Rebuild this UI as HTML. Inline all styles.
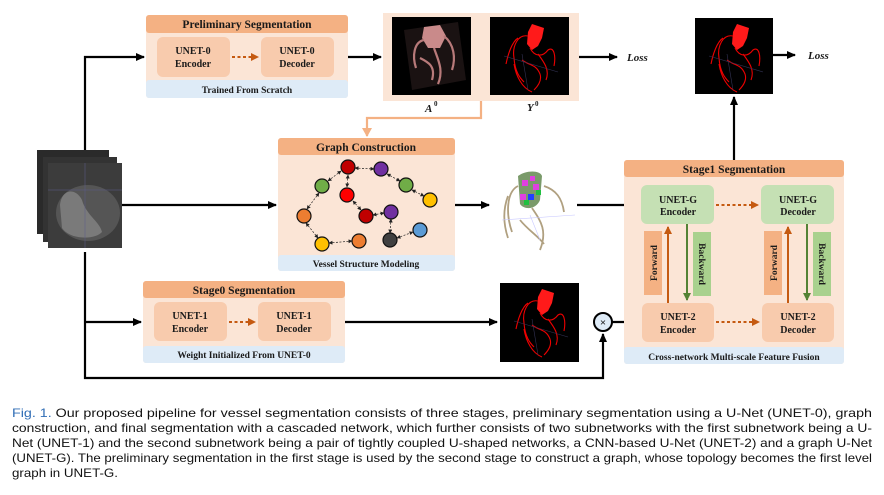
<!DOCTYPE html>
<html><head><meta charset="utf-8"><style>
html,body{margin:0;padding:0;background:#fff;}
svg{display:block;}
text{font-family:"Liberation Serif",serif;font-weight:bold;fill:#1a1a1a;}
.c{font-family:"Liberation Sans",sans-serif;font-weight:normal;fill:#111;font-size:11.6px;}
</style></head><body>
<svg width="884" height="495" viewBox="0 0 884 495" xmlns="http://www.w3.org/2000/svg">
<defs>
<marker id="ab" markerWidth="9" markerHeight="8" refX="8" refY="4" orient="auto" markerUnits="userSpaceOnUse"><path d="M0,0 L9,4 L0,8 z" fill="#000"/></marker>
<marker id="ao" markerWidth="8" markerHeight="8" refX="7" refY="4" orient="auto" markerUnits="userSpaceOnUse"><path d="M0,0 L8,4 L0,8 z" fill="#c55a11"/></marker>
<marker id="ag" markerWidth="8" markerHeight="8" refX="7" refY="4" orient="auto" markerUnits="userSpaceOnUse"><path d="M0,0 L8,4 L0,8 z" fill="#548235"/></marker>
<marker id="ap" markerWidth="10" markerHeight="10" refX="8" refY="5" orient="auto" markerUnits="userSpaceOnUse"><path d="M0,0 L9,5 L0,10 z" fill="#f4b183"/></marker>
<marker id="sm" markerWidth="4" markerHeight="4" refX="3.5" refY="2" orient="auto-start-reverse" markerUnits="userSpaceOnUse"><path d="M0,0 L4,2 L0,4 z" fill="#222"/></marker>
<g id="heart">
<path d="M32,4 L44,8 L42,18 L38,26 L32,30 L27,24 L28,12 Z" fill="#ff1a1a"/>
<path d="M28,16 C18,14 12,26 14,38 C15,52 20,58 24,62 M30,28 C34,36 42,38 48,30 C54,26 56,36 54,46 M22,40 C30,46 36,44 40,54 C42,60 38,66 34,70 M14,44 C16,56 22,68 32,72 M38,34 C44,42 50,50 46,60 M18,18 C12,22 8,34 6,44" stroke="#e00" stroke-width="1.1" fill="none"/>
<path d="M4,36 L58,52 M22,34 L28,70" stroke="#335" stroke-width="0.6"/>
</g>
</defs>

<g stroke="#000" stroke-width="2.2" fill="none">
<path d="M85,150 L85,57 L144,57" marker-end="url(#ab)"/>
<path d="M85,252 L85,378 L603,378 L603,334" marker-end="url(#ab)"/>
<path d="M85,322 L141,322" marker-end="url(#ab)"/>
<path d="M122,205 L276,205" marker-end="url(#ab)"/>
<path d="M348,57 L381,57" marker-end="url(#ab)"/>
<path d="M579,57 L617,57" marker-end="url(#ab)"/>
<path d="M455,205 L489,205" marker-end="url(#ab)"/>
<path d="M577,205 L638,205" marker-end="url(#ab)"/>
<path d="M345,322 L497,322" marker-end="url(#ab)"/>
<path d="M612,322 L638,322" marker-end="url(#ab)"/>
<path d="M734,160 L734,97" marker-end="url(#ab)"/>
<path d="M773,55 L795,55" marker-end="url(#ab)"/>
</g>
<text x="627" y="61" font-size="11" font-style="italic">Loss</text>
<text x="808" y="59" font-size="11" font-style="italic">Loss</text>

<rect x="37" y="150" width="72" height="84" fill="#2a2a2a"/>
<rect x="43" y="157" width="74" height="85" fill="#333"/>
<rect x="48" y="163" width="74" height="85" fill="#3c3c3c"/>
<ellipse cx="88" cy="213" rx="32" ry="28" fill="#555"/>
<path d="M60,205 C62,188 76,188 82,200 C86,215 100,222 102,232 C95,240 70,240 62,228 Z" fill="#7a7a7a"/>
<path d="M48,190 L122,190 M85,163 L85,248" stroke="#5b5b8a" stroke-width="0.5"/>

<rect x="146" y="15" width="202" height="83" rx="3" fill="#fbe5d6"/>
<rect x="146" y="15" width="202" height="18" rx="3" fill="#f4b183"/>
<rect x="146" y="80" width="202" height="18" rx="3" fill="#deebf7"/>
<text x="247" y="28" font-size="11.5" text-anchor="middle">Preliminary Segmentation</text>
<rect x="157" y="37" width="73" height="40" rx="6" fill="#f8cbad"/>
<rect x="261" y="37" width="73" height="40" rx="6" fill="#f8cbad"/>
<text x="193" y="54" font-size="10" text-anchor="middle">UNET-0</text>
<text x="193" y="67" font-size="10" text-anchor="middle">Encoder</text>
<text x="297" y="54" font-size="10" text-anchor="middle">UNET-0</text>
<text x="297" y="67" font-size="10" text-anchor="middle">Decoder</text>
<path d="M232,57 L258,57" stroke="#c55a11" stroke-width="2" stroke-dasharray="3,2.5" marker-end="url(#ao)"/>
<text x="247" y="93" font-size="9.5" text-anchor="middle">Trained From Scratch</text>

<rect x="383" y="13" width="196" height="88" fill="#fbe5d6"/>
<rect x="392" y="17" width="79" height="78" fill="#000"/>
<rect x="490" y="17" width="79" height="78" fill="#000"/>
<path d="M404,30 L458,22 L466,80 L412,90 Z" fill="#1a1212"/>
<path d="M424,27 L440,25 L446,36 L440,48 L428,48 L422,38 Z" fill="#c98a8a"/>
<path d="M424,40 C414,42 412,56 416,68 M434,48 C438,60 444,70 438,84 M420,58 C428,62 436,66 432,80 M444,36 C454,44 456,58 452,70" stroke="#b87a7a" stroke-width="2.2" fill="none"/>
<g transform="translate(500,20)"><use href="#heart"/></g>
<g transform="translate(705,20)"><rect x="-10" y="-2" width="78" height="76" fill="#000"/><use href="#heart"/></g>
<g transform="translate(510,285)"><rect x="-10" y="-2" width="79" height="79" fill="#000"/><use href="#heart"/></g>
<text x="425" y="112" font-size="11" font-style="italic">A</text><text x="434" y="106" font-size="7">0</text>
<text x="527" y="111" font-size="11" font-style="italic">Y</text><text x="535" y="106" font-size="7">0</text>
<path d="M481,101 L481,118 L367,118 L367,136" stroke="#f4b183" stroke-width="2.2" fill="none" marker-end="url(#ap)"/>

<rect x="278" y="138" width="177" height="133" rx="3" fill="#fbe5d6"/>
<rect x="278" y="138" width="177" height="17" rx="3" fill="#f4b183"/>
<rect x="278" y="255" width="177" height="16" rx="3" fill="#deebf7"/>
<text x="366" y="151" font-size="11.5" text-anchor="middle">Graph Construction</text>
<text x="366" y="267" font-size="9.5" text-anchor="middle">Vessel Structure Modeling</text>
<g stroke="#222" stroke-width="0.7" stroke-dasharray="2,1.5" marker-start="url(#sm)" marker-end="url(#sm)">
<path d="M355,168 L374,169"/><path d="M341,171 L328,181"/><path d="M348,175 L347,187"/><path d="M387,174 L400,181"/>
<path d="M412,190 L424,196"/><path d="M319,193 L307,209"/><path d="M353,201 L361,210"/><path d="M373,215 L384,213"/>
<path d="M306,223 L318,238"/><path d="M329,243 L352,241"/><path d="M391,219 L390,233"/><path d="M397,238 L413,232"/>
</g>
<g stroke="#111" stroke-width="1.2">
<circle cx="348" cy="167" r="7" fill="#c00000"/>
<circle cx="381" cy="169" r="7" fill="#7030a0"/>
<circle cx="322" cy="186" r="7" fill="#70ad47"/>
<circle cx="406" cy="185" r="7" fill="#70ad47"/>
<circle cx="347" cy="195" r="7" fill="#ff0000"/>
<circle cx="430" cy="200" r="7" fill="#ffc000"/>
<circle cx="304" cy="216" r="7" fill="#ed7d31"/>
<circle cx="366" cy="216" r="7" fill="#c00000"/>
<circle cx="391" cy="212" r="7" fill="#7030a0"/>
<circle cx="420" cy="230" r="7" fill="#5b9bd5"/>
<circle cx="322" cy="244" r="7" fill="#ffc000"/>
<circle cx="359" cy="241" r="7" fill="#ed7d31"/>
<circle cx="390" cy="240" r="7" fill="#404040"/>
</g>

<path d="M518,176 C526,170 540,170 542,176 L540,200 C536,210 524,210 520,204 Z" fill="#7a9a6a"/>
<path d="M522,180 h6v6h-6z M533,184h6v6h-6z M520,194h6v6h-6z M530,176h5v5h-5z" fill="#e040e0"/>
<path d="M528,194 h6v6h-6z" fill="#2040ff"/>
<path d="M536,190h5v5h-5z M524,200h5v5h-5z" fill="#20c040"/>
<path d="M518,186 C506,192 506,215 512,232 M532,208 C540,220 548,230 540,250 M544,186 C556,190 562,198 564,212 M520,220 C528,230 538,236 544,244 M508,196 C502,212 504,226 508,238" stroke="#b0a080" stroke-width="1.8" fill="none"/>
<path d="M502,220 L575,215 M530,215 L540,240" stroke="#c8c8ff" stroke-width="0.6"/>

<rect x="143" y="281" width="202" height="82" rx="3" fill="#fbe5d6"/>
<rect x="143" y="281" width="202" height="17" rx="3" fill="#f4b183"/>
<rect x="143" y="346" width="202" height="17" rx="3" fill="#deebf7"/>
<text x="244" y="294" font-size="11.5" text-anchor="middle">Stage0 Segmentation</text>
<rect x="154" y="302" width="73" height="39" rx="6" fill="#f8cbad"/>
<rect x="258" y="302" width="73" height="39" rx="6" fill="#f8cbad"/>
<text x="190" y="319" font-size="10" text-anchor="middle">UNET-1</text>
<text x="190" y="332" font-size="10" text-anchor="middle">Encoder</text>
<text x="294" y="319" font-size="10" text-anchor="middle">UNET-1</text>
<text x="294" y="332" font-size="10" text-anchor="middle">Decoder</text>
<path d="M229,322 L255,322" stroke="#c55a11" stroke-width="2" stroke-dasharray="3,2.5" marker-end="url(#ao)"/>
<text x="244" y="358" font-size="9.5" text-anchor="middle">Weight Initialized From UNET-0</text>

<circle cx="603" cy="322" r="9" fill="#deebf7" stroke="#000" stroke-width="2"/>
<text x="603" y="326" font-size="11" text-anchor="middle" font-family="Liberation Sans" font-weight="normal">×</text>

<rect x="624" y="160" width="220" height="204" rx="3" fill="#fbe5d6"/>
<rect x="624" y="160" width="220" height="17" rx="3" fill="#f4b183"/>
<rect x="624" y="347" width="220" height="17" rx="3" fill="#deebf7"/>
<text x="734" y="173" font-size="11.5" text-anchor="middle">Stage1 Segmentation</text>
<text x="734" y="360" font-size="9.5" text-anchor="middle">Cross-network Multi-scale Feature Fusion</text>
<rect x="641" y="185" width="73" height="39" rx="6" fill="#c5e0b4"/>
<rect x="761" y="185" width="73" height="39" rx="6" fill="#c5e0b4"/>
<rect x="642" y="303" width="72" height="39" rx="6" fill="#f8cbad"/>
<rect x="762" y="303" width="72" height="39" rx="6" fill="#f8cbad"/>
<text x="678" y="203" font-size="10" text-anchor="middle">UNET-G</text>
<text x="678" y="215" font-size="10" text-anchor="middle">Encoder</text>
<text x="798" y="203" font-size="10" text-anchor="middle">UNET-G</text>
<text x="798" y="215" font-size="10" text-anchor="middle">Decoder</text>
<text x="678" y="320" font-size="10" text-anchor="middle">UNET-2</text>
<text x="678" y="333" font-size="10" text-anchor="middle">Encoder</text>
<text x="798" y="320" font-size="10" text-anchor="middle">UNET-2</text>
<text x="798" y="333" font-size="10" text-anchor="middle">Decoder</text>
<path d="M716,205 L758,205" stroke="#c55a11" stroke-width="2" stroke-dasharray="3,2.5" marker-end="url(#ao)"/>
<path d="M716,322 L759,322" stroke="#c55a11" stroke-width="2" stroke-dasharray="3,2.5" marker-end="url(#ao)"/>
<rect x="644" y="231" width="18" height="64" fill="#f4b183"/>
<rect x="693" y="232" width="18" height="64" fill="#a9d18e"/>
<rect x="764" y="231" width="18" height="64" fill="#f4b183"/>
<rect x="813" y="232" width="18" height="64" fill="#a9d18e"/>
<text transform="translate(657,263) rotate(-90)" font-size="9.5" font-weight="normal" text-anchor="middle">Forward</text>
<text transform="translate(699,264) rotate(90)" font-size="9.5" font-weight="normal" text-anchor="middle">Backward</text>
<text transform="translate(777,263) rotate(-90)" font-size="9.5" font-weight="normal" text-anchor="middle">Forward</text>
<text transform="translate(819,264) rotate(90)" font-size="9.5" font-weight="normal" text-anchor="middle">Backward</text>
<path d="M668,303 L668,227" stroke="#c55a11" stroke-width="2" marker-end="url(#ao)"/>
<path d="M687,224 L687,300" stroke="#548235" stroke-width="2" marker-end="url(#ag)"/>
<path d="M788,303 L788,227" stroke="#c55a11" stroke-width="2" marker-end="url(#ao)"/>
<path d="M807,224 L807,300" stroke="#548235" stroke-width="2" marker-end="url(#ag)"/>

<text class="c" x="12" y="417" textLength="860" lengthAdjust="spacingAndGlyphs"><tspan style="fill:#2f6db5">Fig. 1.</tspan>   Our proposed pipeline for vessel segmentation consists of three stages, preliminary segmentation using a U-Net (UNET-0), graph</text>
<text class="c" x="12" y="432" textLength="860" lengthAdjust="spacingAndGlyphs">construction, and final segmentation with a cascaded network, which further consists of two subnetworks with the first subnetwork being a U-</text>
<text class="c" x="12" y="447" textLength="860" lengthAdjust="spacingAndGlyphs">Net (UNET-1) and the second subnetwork being a pair of tightly coupled U-shaped networks, a CNN-based U-Net (UNET-2) and a graph U-Net</text>
<text class="c" x="12" y="462" textLength="860" lengthAdjust="spacingAndGlyphs">(UNET-G). The preliminary segmentation in the first stage is used by the second stage to construct a graph, whose topology becomes the first level</text>
<text class="c" x="12" y="477" textLength="106" lengthAdjust="spacingAndGlyphs">graph in UNET-G.</text>
</svg>
</body></html>
